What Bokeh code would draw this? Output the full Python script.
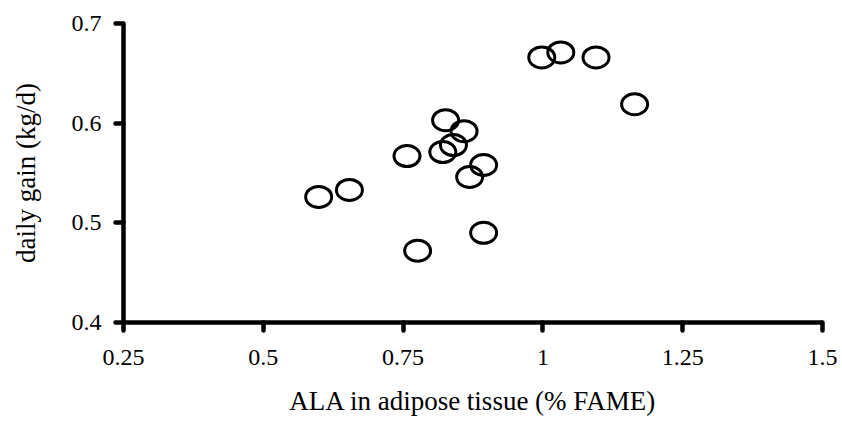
from bokeh.plotting import figure
from bokeh.models import Range1d, FixedTicker
from bokeh.embed import file_html
from bokeh.resources import INLINE

# Data
ala = [0.599, 0.654, 0.757, 0.776, 0.826, 0.859, 0.821, 0.840, 0.894, 0.869,
       0.894, 0.998, 1.032, 1.095, 1.164]
gain = [0.526, 0.533, 0.567, 0.472, 0.603, 0.592, 0.571, 0.578, 0.558, 0.546,
        0.490, 0.666, 0.671, 0.666, 0.619]

x_ticks = [0.25, 0.5, 0.75, 1.0, 1.25, 1.5]
x_tick_labels = ["0.25", "0.5", "0.75", "1", "1.25", "1.5"]
y_ticks = [0.4, 0.5, 0.6, 0.7]
y_tick_labels = ["0.4", "0.5", "0.6", "0.7"]

x_title = "ALA in adipose tissue (% FAME)"
y_title = "daily gain (kg/d)"

FONT = "Liberation Serif"

p = figure(width=842, height=421, output_backend="svg", toolbar_location=None,
           x_range=Range1d(0.25, 1.5), y_range=Range1d(0.4, 0.7),
           min_border_left=123, min_border_right=20, min_border_top=23,
           min_border_bottom=99)
p.outline_line_color = None
p.xgrid.grid_line_color = None
p.ygrid.grid_line_color = None
p.background_fill_color = "white"
p.border_fill_color = "white"

p.ellipse(x=ala, y=gain, width=26, height=21, width_units="screen",
          height_units="screen", fill_color=None, line_color="black", line_width=3)

for ax, ticks, labels in ((p.xaxis[0], x_ticks, x_tick_labels),
                          (p.yaxis[0], y_ticks, y_tick_labels)):
    ax.ticker = FixedTicker(ticks=ticks)
    ax.major_label_overrides = {t: l for t, l in zip(ticks, labels)}
    ax.axis_line_width = 4.5
    ax.axis_line_color = "black"
    ax.major_tick_line_width = 4.5
    ax.major_tick_line_color = "black"
    ax.major_tick_line_cap = "round"
    ax.major_tick_in = 0
    ax.major_tick_out = 8
    ax.minor_tick_line_color = None
    ax.major_label_text_font = FONT
    ax.major_label_text_font_size = "24px"
    ax.major_label_text_color = "black"
    ax.axis_label_text_font = FONT
    ax.axis_label_text_font_size = "27px"
    ax.axis_label_text_font_style = "normal"
    ax.axis_label_text_color = "black"

p.xaxis.axis_label = x_title
p.yaxis.axis_label = y_title
p.xaxis.major_label_standoff = 19
p.yaxis.major_label_standoff = 14
p.xaxis.axis_label_standoff = 18
p.yaxis.axis_label_standoff = 28

open("out.html", "w").write(file_html(p, INLINE))
